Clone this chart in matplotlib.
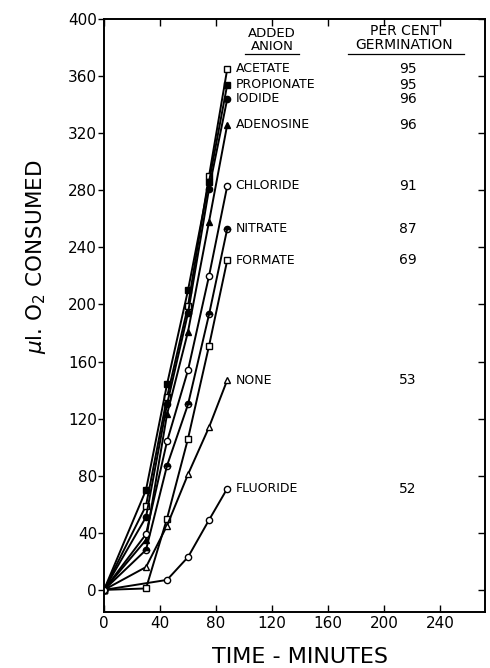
import numpy as np
import matplotlib
matplotlib.use("Agg")
import matplotlib.pyplot as plt

# time points (minutes) and ul O2 consumed
times = [0, 30, 45, 60, 75, 88]
acetate = [0, 59, 135, 199, 290, 365]
propionate = [0, 70, 144, 210, 286, 354]
iodide = [0, 51, 130, 194, 281, 344]
adenosine = [0, 35, 123, 181, 258, 326]
chloride = [0, 39, 104, 154, 220, 283]
nitrate = [0, 28, 87, 130, 193, 253]
formate = [0, 1, 50, 106, 171, 231]
none_ = [0, 16, 45, 81, 114, 147]
fluoride_t = [0, 45, 60, 75, 88]
fluoride = [0, 7, 23, 49, 71]

names = ["ACETATE", "PROPIONATE", "IODIDE", "ADENOSINE", "CHLORIDE",
         "NITRATE", "FORMATE", "NONE", "FLUORIDE"]
germination = [95, 95, 96, 96, 91, 87, 69, 53, 52]

series = [
    (times, acetate, dict(marker="s", mfc="white")),
    (times, propionate, dict(marker="s", mfc="black")),
    (times, iodide, dict(marker="o", mfc="black")),
    (times, adenosine, dict(marker="^", mfc="black")),
    (times, chloride, dict(marker="o", mfc="white")),
    (times, nitrate, dict(marker="o", mfc="black", fillstyle="top")),
    (times, formate, dict(marker="s", mfc="white")),
    (times, none_, dict(marker="^", mfc="white")),
    (fluoride_t, fluoride, dict(marker="o", mfc="white")),
]

fig = plt.figure(figsize=(4.9, 6.68), dpi=100)
ax = fig.add_axes([0.2122, 0.0838, 0.7776, 0.8878])

for t, v, st in series:
    ax.plot(t, v, "-", color="black", lw=1.4, ms=4.5, mec="black",
            mew=1.0, **st)

for n, g, (t, v, st) in zip(names, germination, series):
    ax.text(t[-1] + 6, v[-1], n, fontsize=9, va="center", ha="left")
    ax.text(217, v[-1], str(g), fontsize=10, va="center", ha="center")

ax.text(120, 389.5, "ADDED", fontsize=9.5, ha="center", va="center")
ax.text(120, 381, "ANION", fontsize=9.5, ha="center", va="center")
ax.text(214, 391.5, "PER CENT", fontsize=10, ha="center", va="center")
ax.text(214, 382, "GERMINATION", fontsize=10, ha="center", va="center")
ax.plot([101, 139], [375.5, 375.5], color="black", lw=0.9)
ax.plot([174, 257], [375.5, 375.5], color="black", lw=0.9)

ax.set_xlim(0, 272)
ax.set_ylim(-15.5, 400)
ax.set_xticks(np.arange(0, 241, 40))
ax.set_yticks(np.arange(0, 401, 40))
ax.tick_params(axis="x", direction="in", top=True, length=5, width=1,
               labelsize=11, pad=3)
ax.tick_params(axis="y", direction="out", length=4, width=1,
               labelsize=11, pad=1)
ax2 = ax.twinx()
ax2.set_ylim(ax.get_ylim())
ax2.set_yticks(np.arange(0, 401, 40))
ax2.tick_params(axis="y", direction="in", length=5, width=1, labelright=False)
for a in (ax, ax2):
    for s in a.spines.values():
        s.set_linewidth(1.2)

fig.text(0.612, 0.016, "TIME - MINUTES", fontsize=16, ha="center",
         va="center")
fig.text(0.074, 0.615, r"$\mu$l. O$_2$ CONSUMED", fontsize=15.5,
         rotation=90, ha="center", va="center")

fig.savefig("out.png", dpi=100)
